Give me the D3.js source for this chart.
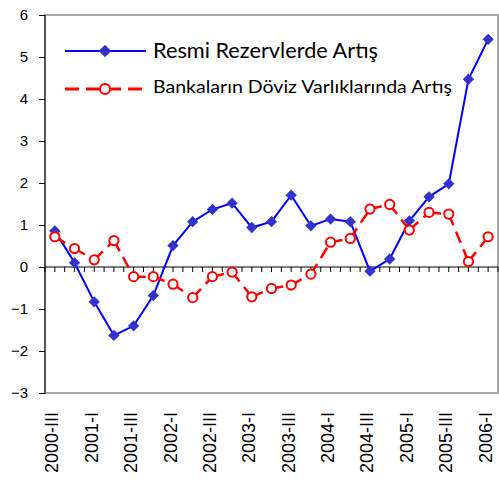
<!DOCTYPE html>
<html>
<head>
<meta charset="utf-8">
<script src="https://cdn.jsdelivr.net/npm/d3@7"></script>
<style>
  body { margin: 0; background: #fff; }
  svg { display: block; }
</style>
</head>
<body>
<div id="chart"></div>
<script>
// quarters shown on the category axis
const quarters = ["2000-III", "2000-IV",
  "2001-I", "2001-II", "2001-III", "2001-IV",
  "2002-I", "2002-II", "2002-III", "2002-IV",
  "2003-I", "2003-II", "2003-III", "2003-IV",
  "2004-I", "2004-II", "2004-III", "2004-IV",
  "2005-I", "2005-II", "2005-III", "2005-IV",
  "2006-I"];

const resmiRezerv = [0.86, 0.10, -0.83, -1.63, -1.40, -0.68, 0.51, 1.08, 1.37, 1.52,
  0.94, 1.08, 1.71, 0.98, 1.14, 1.08, -0.10, 0.19, 1.10, 1.67, 1.98, 4.47, 5.42];

const bankaDoviz = [0.72, 0.44, 0.17, 0.63, -0.23, -0.23, -0.41, -0.73, -0.23, -0.12,
  -0.71, -0.51, -0.43, -0.17, 0.59, 0.68, 1.38, 1.49, 0.88, 1.30, 1.26, 0.13, 0.72];

const yTicks = [-3, -2, -1, 0, 1, 2, 3, 4, 5, 6];

const seriesNames = ["Resmi Rezervlerde Artış", "Bankaların Döviz Varlıklarında Artış"];

const width = 499, height = 486;
const plot = {left: 45, right: 498, top: 15, bottom: 393};

const svg = d3.select("#chart")
  .append("svg")
    .attr("width", width)
    .attr("height", height);

const x = d3.scaleBand()
    .domain(quarters)
    .range([plot.left, plot.right]);

const cx = d => x(d) + x.bandwidth() / 2;

const y = d3.scaleLinear()
    .domain([-3, 6])
    .range([plot.bottom, plot.top]);

// plot frame
svg.append("rect")
    .attr("x", plot.left)
    .attr("y", plot.top)
    .attr("width", plot.right - plot.left)
    .attr("height", plot.bottom - plot.top)
    .attr("fill", "none")
    .attr("stroke", "#a6a6a6")
    .attr("stroke-width", 2);

// y axis
svg.append("g")
    .attr("transform", `translate(${plot.left},0)`)
    .call(d3.axisLeft(y).tickValues(yTicks).tickSize(6).tickPadding(11))
    .call(g => g.select(".domain").remove())
    .call(g => g.selectAll(".tick line").attr("stroke", "#000"))
    .call(g => g.selectAll(".tick text")
        .attr("font-family", "Liberation Sans, Arial, sans-serif")
        .attr("font-size", 15)
        .attr("fill", "#000"));

svg.append("line")
    .attr("x1", plot.left).attr("x2", plot.left)
    .attr("y1", plot.top).attr("y2", plot.bottom + 1)
    .attr("stroke", "#000");

// x axis at zero with ticks every half category
const halfTicks = [];
quarters.forEach(q => { halfTicks.push(x(q)); halfTicks.push(cx(q)); });
halfTicks.push(x(quarters[quarters.length - 1]) + x.bandwidth());

const xAxis = svg.append("g");
xAxis.append("line")
    .attr("x1", plot.left).attr("x2", plot.right)
    .attr("y1", y(0)).attr("y2", y(0))
    .attr("stroke", "#000");
xAxis.selectAll(".xt")
  .data(halfTicks)
  .join("line")
    .attr("class", "xt")
    .attr("x1", d => d).attr("x2", d => d)
    .attr("y1", y(0)).attr("y2", y(0) + 5)
    .attr("stroke", "#000");

// category labels, every second quarter
svg.append("g")
  .selectAll("text")
  .data(quarters.filter((q, i) => i % 2 === 0))
  .join("text")
    .attr("transform", d => `translate(${cx(d) - 3},412) rotate(-90)`)
    .attr("text-anchor", "end")
    .attr("dy", "0.36em")
    .attr("font-family", "Liberation Sans, Arial, sans-serif")
    .attr("font-size", 18)
    .text(d => d);

// blue series
const blueLine = d3.line()
    .x((d, i) => cx(quarters[i]))
    .y(d => y(d));

svg.append("path")
    .datum(resmiRezerv)
    .attr("d", blueLine)
    .attr("fill", "none")
    .attr("stroke", "#0000ff")
    .attr("stroke-width", 2);

const diamond = d3.symbol(d3.symbolSquare, 64);

svg.append("g")
  .selectAll("path")
  .data(resmiRezerv)
  .join("path")
    .attr("d", diamond)
    .attr("transform", (d, i) => `translate(${cx(quarters[i])},${y(d)}) rotate(45)`)
    .attr("fill", "#3333cc");

// red series, dashes restart at each point
const redPts = bankaDoviz.map((d, i) => [cx(quarters[i]), y(d)]);

svg.append("g")
  .selectAll("line")
  .data(d3.pairs(redPts))
  .join("line")
    .attr("x1", d => d[0][0]).attr("y1", d => d[0][1])
    .attr("x2", d => d[1][0]).attr("y2", d => d[1][1])
    .attr("stroke", "#ff0000")
    .attr("stroke-width", 2.5)
    .attr("stroke-dasharray", "12,7");

svg.append("g")
  .selectAll("circle")
  .data(redPts)
  .join("circle")
    .attr("cx", d => d[0])
    .attr("cy", d => d[1])
    .attr("r", 4.6)
    .attr("fill", "#fff")
    .attr("stroke", "#ff0000")
    .attr("stroke-width", 2);

// legend
const legend = svg.append("g");

legend.append("line")
    .attr("x1", 65).attr("x2", 146)
    .attr("y1", 51).attr("y2", 51)
    .attr("stroke", "#0000ff")
    .attr("stroke-width", 2);
legend.append("path")
    .attr("d", d3.symbol(d3.symbolSquare, 80))
    .attr("transform", "translate(105,51) rotate(45)")
    .attr("fill", "#3333cc");
legend.append("text")
    .attr("x", 153).attr("y", 58)
    .attr("font-family", "Lato, sans-serif")
    .attr("font-size", 20.5)
    .attr("textLength", 225)
    .attr("lengthAdjust", "spacingAndGlyphs")
    .text(seriesNames[0]);

legend.append("line")
    .attr("x1", 65).attr("x2", 146)
    .attr("y1", 89).attr("y2", 89)
    .attr("stroke", "#ff0000")
    .attr("stroke-width", 3)
    .attr("stroke-dasharray", "14,7");
legend.append("circle")
    .attr("cx", 105).attr("cy", 89)
    .attr("r", 5)
    .attr("fill", "#fff")
    .attr("stroke", "#ff0000")
    .attr("stroke-width", 2);
legend.append("text")
    .attr("x", 153).attr("y", 93)
    .attr("font-family", "Lato, sans-serif")
    .attr("font-size", 17.5)
    .attr("textLength", 299)
    .attr("lengthAdjust", "spacingAndGlyphs")
    .text(seriesNames[1]);
</script>
</body>
</html>
